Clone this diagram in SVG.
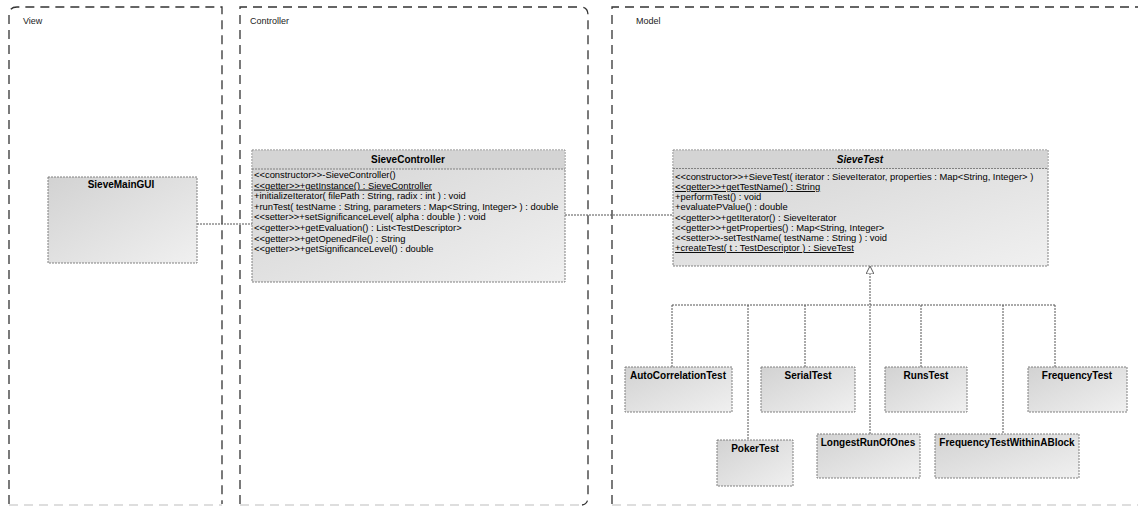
<svg xmlns="http://www.w3.org/2000/svg" width="1138" height="507" viewBox="0 0 1138 507">
<style>
.pkg{fill:none;stroke:#333;stroke-width:1.3;stroke-dasharray:9 6}
.pkgb{fill:none;stroke:#bdbdbd;stroke-width:1;stroke-dasharray:9 6}
.plbl{font-family:"Liberation Sans",Arial,sans-serif;font-size:9px;fill:#222}
.cls{fill:url(#g);stroke:#808080;stroke-width:1;stroke-dasharray:2 1}
.band{fill:#d4d4d4}
.sep{stroke:#808080;stroke-width:1;stroke-dasharray:2 1}
.nm{font-family:"Liberation Sans",Arial,sans-serif;font-size:10px;font-weight:bold;fill:#000;text-anchor:middle}
.it{font-style:italic}
.op{font-family:"Liberation Sans",Arial,sans-serif;font-size:9.4px;fill:#000}
.u{text-decoration:underline}
.ln{fill:none;stroke:#555;stroke-width:1;stroke-dasharray:2 1}
</style>
<defs>
<linearGradient id="g" x1="0" y1="0" x2="1" y2="1">
<stop offset="0" stop-color="#d2d2d2"/>
<stop offset="1" stop-color="#f0f0f0"/>
</linearGradient>
<marker id="tri" viewBox="0 0 10 10" refX="10" refY="5" markerWidth="8" markerHeight="8" markerUnits="userSpaceOnUse" orient="auto">
<path d="M0,0 L10,5 L0,10 z" fill="#fff" stroke="#555" stroke-width="1.2"/>
</marker>
</defs>
<rect width="1138" height="507" fill="#fff"/>
<g id="pkg-view">
<path class="pkg" d="M9,504 V15 Q9,7 17,7 H222 V504"/>
<path class="pkgb" d="M9,505 H222"/>
<text class="plbl" x="23" y="24">View</text>
</g>
<g id="pkg-controller">
<path class="pkg" d="M240,504 V7 H580 Q588,7 588,15 V497 Q588,504 582,505"/>
<path class="pkgb" d="M240,505 H580"/>
<text class="plbl" x="250" y="24">Controller</text>
</g>
<g id="pkg-model">
<path class="pkg" d="M612,504 V7 H1138"/>
<path class="pkgb" d="M612,505 H1138"/>
<text class="plbl" x="636" y="24">Model</text>
</g>
<g id="connectors">
<path class="ln" d="M197,224 H252"/>
<path class="ln" d="M565,215 H673"/>
<path class="ln" d="M672,305 H1055"/>
<path class="ln" d="M672,305 V367 M748,305 V440 M805,305 V367 M921,305 V367 M1003,305 V434 M1055,305 V367"/>
<path class="ln" d="M870,434 V266" marker-end="url(#tri)"/>
</g>
<g id="SieveMainGUI">
<rect class="cls" x="48" y="177" width="149" height="86"/>
<text class="nm" x="121" y="188">SieveMainGUI</text>
</g>
<g id="SieveController">
<rect class="cls" x="252" y="150" width="313" height="132"/>
<rect class="band" x="252.5" y="150.5" width="312" height="18.5"/>
<line class="sep" x1="252" y1="169" x2="565" y2="169"/>
<text class="nm" x="408" y="163">SieveController</text>
<text class="op" x="254" y="178">&lt;&lt;constructor&gt;&gt;-SieveController()</text>
<text class="op u" x="254" y="188.6">&lt;&lt;getter&gt;&gt;+getInstance() : SieveController</text>
<text class="op" x="254" y="199.2">+initializeIterator( filePath : String, radix : int ) : void</text>
<text class="op" x="254" y="209.8">+runTest( testName : String, parameters : Map&lt;String, Integer&gt; ) : double</text>
<text class="op" x="254" y="220.4">&lt;&lt;setter&gt;&gt;+setSignificanceLevel( alpha : double ) : void</text>
<text class="op" x="254" y="231">&lt;&lt;getter&gt;&gt;+getEvaluation() : List&lt;TestDescriptor&gt;</text>
<text class="op" x="254" y="241.6">&lt;&lt;getter&gt;&gt;+getOpenedFile() : String</text>
<text class="op" x="254" y="252.2">&lt;&lt;getter&gt;&gt;+getSignificanceLevel() : double</text>
</g>
<g id="SieveTest">
<rect class="cls" x="673" y="150" width="375" height="116"/>
<rect class="band" x="673.5" y="150.5" width="374" height="18"/>
<line class="sep" x1="673" y1="168.5" x2="1048" y2="168.5"/>
<text class="nm it" x="860" y="163">SieveTest</text>
<text class="op" x="675" y="180">&lt;&lt;constructor&gt;&gt;+SieveTest( iterator : SieveIterator, properties : Map&lt;String, Integer&gt; )</text>
<text class="op u" x="675" y="190">&lt;&lt;getter&gt;&gt;+getTestName() : String</text>
<text class="op" x="675" y="200">+performTest() : void</text>
<text class="op" x="675" y="210">+evaluatePValue() : double</text>
<text class="op" x="675" y="221">&lt;&lt;getter&gt;&gt;+getIterator() : SieveIterator</text>
<text class="op" x="675" y="231">&lt;&lt;getter&gt;&gt;+getProperties() : Map&lt;String, Integer&gt;</text>
<text class="op" x="675" y="241">&lt;&lt;setter&gt;&gt;-setTestName( testName : String ) : void</text>
<text class="op u" x="675" y="251">+createTest( t : TestDescriptor ) : SieveTest</text>
</g>
<g id="AutoCorrelationTest">
<rect class="cls" x="625" y="367" width="107" height="45"/>
<text class="nm" x="678" y="379">AutoCorrelationTest</text>
</g>
<g id="SerialTest">
<rect class="cls" x="761" y="367" width="94" height="45"/>
<text class="nm" x="808" y="379">SerialTest</text>
</g>
<g id="RunsTest">
<rect class="cls" x="885" y="367" width="82" height="45"/>
<text class="nm" x="926" y="379">RunsTest</text>
</g>
<g id="FrequencyTest">
<rect class="cls" x="1028" y="367" width="99" height="45"/>
<text class="nm" x="1077" y="379">FrequencyTest</text>
</g>
<g id="PokerTest">
<rect class="cls" x="717" y="440" width="76" height="46"/>
<text class="nm" x="755" y="452">PokerTest</text>
</g>
<g id="LongestRunOfOnes">
<rect class="cls" x="817" y="434" width="103" height="44"/>
<text class="nm" x="868" y="446">LongestRunOfOnes</text>
</g>
<g id="FrequencyTestWithinABlock">
<rect class="cls" x="935" y="434" width="144" height="44"/>
<text class="nm" x="1007" y="446">FrequencyTestWithinABlock</text>
</g>
</svg>
